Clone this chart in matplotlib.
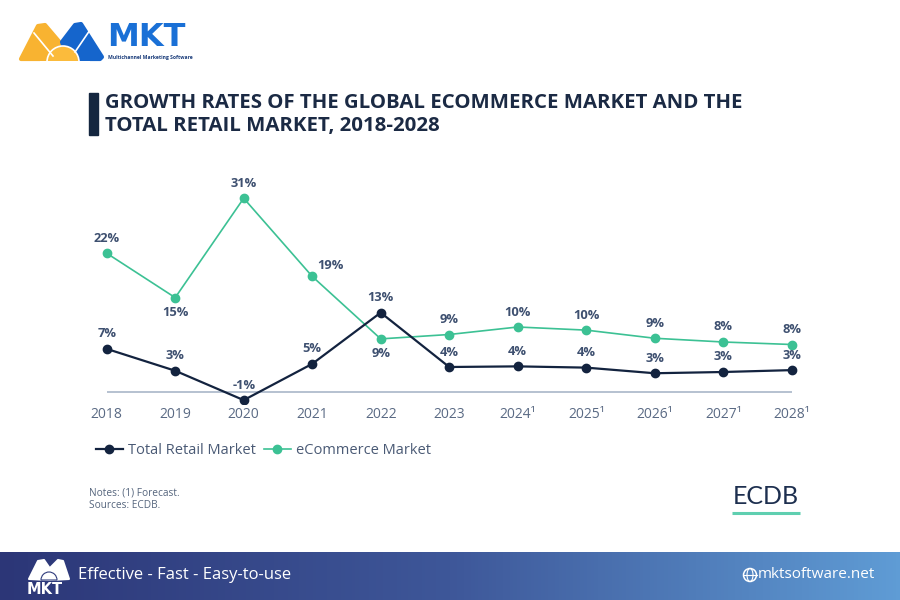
import numpy as np
import matplotlib
matplotlib.use("Agg")
import matplotlib.pyplot as plt
from matplotlib.patches import Polygon, Circle, Wedge, Rectangle, Ellipse
from matplotlib.colors import LinearSegmentedColormap

# ---------------- data ----------------
years = ['2018', '2019', '2020', '2021', '2022', '2023',
         '2024¹', '2025¹', '2026¹', '2027¹', '2028¹']
total_retail = [6.9, 3.4, -1.3, 4.5, 12.7, 4.0, 4.1, 3.9, 3.0, 3.2, 3.5]
ecommerce = [22.2, 15.1, 31.0, 18.5, 8.5, 9.2, 10.4, 9.9, 8.6, 8.0, 7.6]
total_labels = ['7%', '3%', '-1%', '5%', '13%', '4%', '4%', '4%', '3%', '3%', '3%']
ecom_labels = ['22%', '15%', '31%', '19%', '9%', '9%', '10%', '10%', '9%', '8%', '8%']
series_names = ['Total Retail Market', 'eCommerce Market']

# ---------------- style ----------------
FONT = ['Open Sans', 'DejaVu Sans']
plt.rcParams['font.family'] = FONT
NAVY = '#13233f'
TEAL = '#3cc194'
LABEL = '#3e5070'
TICK = '#5a6a84'

W, H = 900, 600
fig = plt.figure(figsize=(9, 6), dpi=100)
fig.patch.set_facecolor('white')

def fx(px):
    return px / W

def fy(py):
    return 1 - py / H

# ---------------- chart axes ----------------
x_first, x_last = 106.7, 791.7
step = (x_last - x_first) / 10
zero_py, unit = 392.0, 6.25
left_px, right_px, top_px, bot_px = 80, 820, 170, 404
ax = fig.add_axes([fx(left_px), fy(bot_px), (right_px - left_px) / W, (bot_px - top_px) / H])
ax.set_xlim(-(x_first - left_px) / step, 10 + (right_px - x_last) / step)
ax.set_ylim(-(bot_px - zero_py) / unit, (zero_py - top_px) / unit)
for s in ax.spines.values():
    s.set_visible(False)
ax.set_yticks([])
x = np.arange(len(years))
ax.set_xticks(x)
ax.set_xticklabels(years, fontsize=10, color=TICK)
ax.tick_params(axis='x', length=0, pad=2)
ax.patch.set_alpha(0)

ax.hlines(0, x[0], x[-1], color='#a9b6c8', lw=1.2, zorder=1)
l1, = ax.plot(x, total_retail, color=NAVY, lw=1.6, marker='o', ms=6, zorder=3,
              label=series_names[0])
l2, = ax.plot(x, ecommerce, color=TEAL, lw=1.2, marker='o', ms=6, zorder=2,
              label=series_names[1])

OFF = 10.8  # points
ecom_pos = ['up', 'down', 'up', 'right', 'down', 'up', 'up', 'up', 'up', 'up', 'up']
for i, (v, t) in enumerate(zip(total_retail, total_labels)):
    ax.annotate(t, (x[i], v), xytext=(0, OFF), textcoords='offset points',
                ha='center', va='center', fontsize=9.3, fontweight='bold', color=LABEL,
                clip_on=False)
for i, (v, t) in enumerate(zip(ecommerce, ecom_labels)):
    p = ecom_pos[i]
    off = {'up': (0, OFF), 'down': (0, -OFF), 'right': (13, 8)}[p]
    ax.annotate(t, (x[i], v), xytext=off, textcoords='offset points',
                ha='center', va='center', fontsize=9.3, fontweight='bold', color=LABEL,
                clip_on=False)

leg = fig.legend(handles=[l1, l2], loc='center left',
                 bbox_to_anchor=(fx(96), fy(451)), ncol=2, frameon=False,
                 fontsize=10.5, handlelength=1.85, handletextpad=0.35,
                 columnspacing=0.55, borderpad=0, borderaxespad=0)
for t in leg.get_texts():
    t.set_color('#4a5a75')

# ---------------- overlay for decorations ----------------
ov = fig.add_axes([0, 0, 1, 1], zorder=-1)
ov.set_xlim(0, W)
ov.set_ylim(H, 0)
ov.axis('off')
ov.patch.set_alpha(0)

# title
ov.add_patch(Rectangle((89, 93), 9, 42, color='#14263f'))
ov.text(105, 103, 'GROWTH RATES OF THE GLOBAL ECOMMERCE MARKET AND THE',
        fontsize=14.7, fontweight='bold', color='#1b2a44', va='center', ha='left')
ov.text(105, 126, 'TOTAL RETAIL MARKET, 2018-2028',
        fontsize=14.7, fontweight='bold', color='#1b2a44', va='center', ha='left')

# notes
ov.text(89, 493, 'Notes: (1) Forecast.', fontsize=7.3, color='#55657d', va='center')
ov.text(89, 506, 'Sources: ECDB.', fontsize=7.3, color='#55657d', va='center')

# ECDB logo
ov.text(766, 497, 'ECDB', fontsize=18, family=['Lato', 'DejaVu Sans'], color='#1d2f4f',
        ha='center', va='center')
ov.plot([732, 800], [512.5, 512.5], color='#5fcfb0', lw=2.2, solid_capstyle='butt')

# top-left MKT logo
ov.add_patch(Polygon([(21, 59), (38, 26), (45, 25), (68, 52), (68, 59)],
                     closed=True, facecolor='#f8b331', edgecolor='#f8b331', lw=3,
                     joinstyle='round'))
ov.add_patch(Polygon([(62, 42), (75, 25), (81, 24), (102, 57), (100, 59), (68, 59)],
                     closed=True, facecolor='#1565cc', edgecolor='#1565cc', lw=3,
                     joinstyle='round'))
ov.plot([34, 53], [33, 56], color='white', lw=1.2)
ov.plot([90, 75], [30, 52], color='white', lw=1.2)
ov.add_patch(Wedge((63, 62), 16, 180, 360, facecolor='#fbbb3c', edgecolor='white', lw=1.2))
ov.add_patch(Rectangle((40, 61), 50, 8, facecolor='white', edgecolor='none'))
ov.text(107, 37, 'MKT', fontsize=23, fontweight='bold', color='#1a70d6',
        family=['DejaVu Sans'], va='center', ha='left')
ov.text(108, 58, 'Multichannel Marketing Software', fontsize=3.6, color='#1a3c7a',
        va='center', ha='left', fontweight='bold')

# footer band with gradient
cmap = LinearSegmentedColormap.from_list('band', ['#2c3677', '#3e5799', '#5f9cd5'])
grad = np.linspace(0, 1, 256).reshape(1, -1)
ov.imshow(grad, extent=(0, W, 600, 552), aspect='auto', cmap=cmap, zorder=0)
ov.set_xlim(0, W)
ov.set_ylim(H, 0)
# footer logo (white)
ov.add_patch(Polygon([(29, 579), (38, 561), (44, 560), (53, 573), (50, 580)],
                     closed=True, facecolor='white', edgecolor='white', lw=1.5,
                     joinstyle='round', zorder=2))
ov.add_patch(Polygon([(47, 571), (58, 560), (63, 561), (69, 579), (50, 580)],
                     closed=True, facecolor='white', edgecolor='white', lw=1.5,
                     joinstyle='round', zorder=2))
ov.add_patch(Wedge((49, 580), 8, 180, 360, facecolor='white', edgecolor='#2f3b7c',
                   lw=0.8, zorder=3))
ov.text(45, 589.5, 'MKT', fontsize=10.5, fontweight='bold', color='white',
        family=['DejaVu Sans'], ha='center', va='center', zorder=3)
ov.text(78, 575, 'Effective - Fast - Easy-to-use', fontsize=12, color='white',
        va='center', ha='left', zorder=3)
# globe icon + url
ov.add_patch(Circle((750, 575), 6.5, facecolor='none', edgecolor='white', lw=1.1, zorder=3))
ov.add_patch(Ellipse((750, 575), 6, 13, facecolor='none', edgecolor='white', lw=0.8, zorder=3))
ov.plot([743.5, 756.5], [575, 575], color='white', lw=0.8, zorder=3)
ov.text(758, 575, 'mktsoftware.net', fontsize=11, color='white', va='center',
        ha='left', zorder=3)

fig.savefig('out.png', dpi=100, facecolor='white')
